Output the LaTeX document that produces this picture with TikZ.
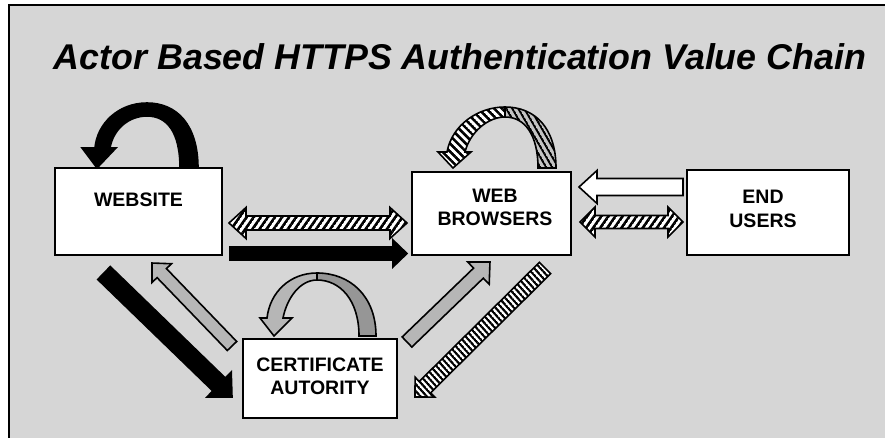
\documentclass[tikz,border=0pt]{standalone}
\usepackage{fontspec}
\setmainfont{Liberation Sans}
\usetikzlibrary{patterns.meta}
\definecolor{bgc}{RGB}{214,214,214}
\definecolor{grayarr}{RGB}{182,182,182}
\definecolor{grayback}{RGB}{150,150,150}
\definecolor{hatchback}{RGB}{195,195,195}
\tikzdeclarepattern{
  name=hatch,
  parameters={\pgfkeysvalueof{/pgf/pattern keys/size},\pgfkeysvalueof{/pgf/pattern keys/angle},\pgfkeysvalueof{/pgf/pattern keys/line width}},
  bounding box={(0,-0.5*\pgfkeysvalueof{/pgf/pattern keys/line width}) and (\pgfkeysvalueof{/pgf/pattern keys/size},0.5*\pgfkeysvalueof{/pgf/pattern keys/line width})},
  tile size={(\pgfkeysvalueof{/pgf/pattern keys/size},\pgfkeysvalueof{/pgf/pattern keys/size})},
  tile transformation={rotate=\pgfkeysvalueof{/pgf/pattern keys/angle}},
  defaults={size/.initial=5pt,angle/.initial=45,line width/.initial=.4pt},
  code={\draw[line width=\pgfkeysvalueof{/pgf/pattern keys/line width}] (0,0) -- (\pgfkeysvalueof{/pgf/pattern keys/size},0);}
}
\newcommand\blockarr[6]{%
  \path (#2) coordinate (baS) (#3) coordinate (baE);
  \pgfpointdiff{\pgfpointanchor{baS}{center}}{\pgfpointanchor{baE}{center}}%
  \pgfgetlastxy{\baDx}{\baDy}%
  \pgfmathsetmacro\baAng{atan2(\baDy,\baDx)}%
  \pgfmathsetmacro\baLen{veclen(\baDx,\baDy)}%
  \begin{scope}[shift={(baS)},rotate=\baAng,x=1pt,y=1pt]
    \draw[#1] (0,-#4/2) -- ({\baLen-#6},-#4/2) -- ({\baLen-#6},-#5/2) -- (\baLen,0)
      -- ({\baLen-#6},#5/2) -- ({\baLen-#6},#4/2) -- (0,#4/2) -- cycle;
  \end{scope}}
\newcommand\dblarr[6]{%
  \path (#2) coordinate (baS) (#3) coordinate (baE);
  \pgfpointdiff{\pgfpointanchor{baS}{center}}{\pgfpointanchor{baE}{center}}%
  \pgfgetlastxy{\baDx}{\baDy}%
  \pgfmathsetmacro\baAng{atan2(\baDy,\baDx)}%
  \pgfmathsetmacro\baLen{veclen(\baDx,\baDy)}%
  \begin{scope}[shift={(baS)},rotate=\baAng,x=1pt,y=1pt]
    \draw[#1] (0,0) -- (#6,-#5/2) -- (#6,-#4/2) -- ({\baLen-#6},-#4/2) -- ({\baLen-#6},-#5/2) -- (\baLen,0)
      -- ({\baLen-#6},#5/2) -- ({\baLen-#6},#4/2) -- (#6,#4/2) -- (#6,#5/2) -- cycle;
  \end{scope}}
\begin{document}
\begin{tikzpicture}[x=1pt,y=-1pt,
  box/.style={draw,line width=2.4pt,fill=white,inner sep=0pt},
  boxtext/.style={font=\fontsize{19.5}{23.5}\selectfont\bfseries,align=center,inner sep=0pt},
  arrline/.style={draw=black,line width=1.6pt,line join=miter},
  blackarr/.style={arrline,fill=black},
  whitearr/.style={arrline,fill=white},
  grayarr/.style={arrline,fill=grayarr},
  hatcharr/.style={arrline,preaction={fill=white},pattern={hatch[size=5.8pt,line width=2.7pt,angle=55]}},
  hatchdiag/.style={arrline,preaction={fill=white},pattern={hatch[size=4.6pt,line width=2.2pt,angle=-48]}}]
\useasboundingbox (0,0) rectangle (885,438);
\fill[white] (0,0) rectangle (885,438);
\fill[bgc] (9,5) rectangle (885,438);
\draw[line width=2.2pt] (9,440) -- (9,5) -- (887,5);
\node[font=\fontsize{35.8}{42}\selectfont\bfseries\itshape,anchor=base,inner sep=0pt] (title) at (460,70) {Actor Based HTTPS Authentication Value Chain};
% boxes
\node[box,minimum width=167pt,minimum height=87pt] (web) at (138.5,211.5) {};
\node[box,minimum width=159pt,minimum height=83pt] (brw) at (491.5,213.5) {};
\node[box,minimum width=162pt,minimum height=85pt] (usr) at (768,212.5) {};
\node[box,minimum width=154pt,minimum height=79pt] (ca) at (320,378.5) {};
\node[boxtext] (webt) at (138.5,200) {WEBSITE};
\node[boxtext] (brwt) at (495,207.5) {WEB\\BROWSERS};
\node[boxtext] (usrt) at (763,209) {END\\USERS};
\node[boxtext] (cat) at (320,376.5) {CERTIFICATE\\AUTORITY};
% loop above website (black)
\draw[arrline,fill=black] (198,168) .. controls (198,125) and (177,103) .. (147,103)
  .. controls (118,103) and (97,124) .. (95,148) -- (82,148) -- (97,168) -- (116,148) -- (110,148)
  .. controls (113,130) and (128,116) .. (147,116) .. controls (167,116) and (180,132) .. (180,168) -- cycle;
% loop above browsers (hatched)
\draw[arrline,preaction={fill=hatchback},pattern={hatch[size=5.2pt,line width=2pt,angle=-60]}]
  (556,168) .. controls (556,128) and (535,107) .. (505,107) -- (505,117)
  .. controls (525,117) and (538,135) .. (538,168) -- cycle;
\draw[arrline,preaction={fill=white},pattern={hatch[size=5.6pt,line width=2.6pt,angle=-45]}]
  (505,107) .. controls (478,107) and (452,125) .. (447,152) -- (438,152) -- (453,168) -- (471,152) -- (465,152)
  .. controls (470,132) and (488,117) .. (505,117) -- cycle;
% loop above CA (gray)
\draw[arrline,fill=grayback] (376,336) .. controls (376,296) and (350,273) .. (317,273) -- (317,280)
  .. controls (340,280) and (359,300) .. (359,336) -- cycle;
\draw[arrline,fill=grayarr] (317,273) .. controls (290,273) and (270,292) .. (267,318) -- (260,318) -- (274,336) -- (292,318) -- (283,318)
  .. controls (287,298) and (300,280) .. (317,280) -- cycle;
% straight arrows
\coordinate (aA1) at (229,223); \coordinate (aA2) at (407,223);
\coordinate (aB1) at (230,253.5); \coordinate (aB2) at (407,253.5);
\coordinate (aC1) at (683,187); \coordinate (aC2) at (579,187);
\coordinate (aD1) at (580,222); \coordinate (aD2) at (683,222);
\coordinate (aE1) at (104,273); \coordinate (aE2) at (232,397);
\coordinate (aF1) at (232,346); \coordinate (aF2) at (152,263);
\coordinate (aG1) at (407,342); \coordinate (aG2) at (490,262);
\coordinate (aH1) at (545,268); \coordinate (aH2) at (415,397);
\dblarr{hatcharr}{aA1}{aA2}{14}{31}{17}
\blockarr{blackarr}{aB1}{aB2}{13}{27}{14}
\blockarr{whitearr}{aC1}{aC2}{17}{33}{18}
\dblarr{hatcharr}{aD1}{aD2}{13}{30}{15}
\blockarr{blackarr}{aE1}{aE2}{18}{35}{18}
\blockarr{grayarr}{aF1}{aF2}{13}{27}{14}
\blockarr{grayarr}{aG1}{aG2}{14}{31}{16}
\blockarr{hatchdiag}{aH1}{aH2}{16}{28}{14}
\end{tikzpicture}
\end{document}
